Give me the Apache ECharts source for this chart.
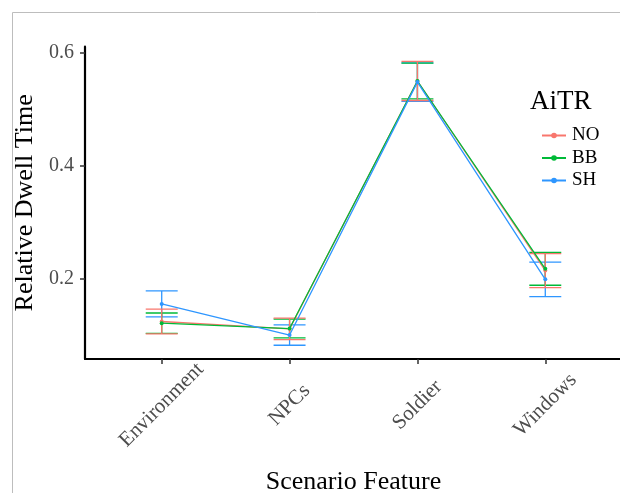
<!DOCTYPE html>
<html>
<head>
<meta charset="utf-8">
<script src="https://cdn.jsdelivr.net/npm/echarts@6/dist/echarts.min.js"></script>
<style>
  html, body { margin: 0; padding: 0; background: #fff; }
  #chart { width: 620px; height: 493px; }
</style>
</head>
<body>
<div id="chart"></div>
<script>
// 数据
const categories = ["Environment", "NPCs", "Soldier", "Windows"];
const groups = ["NO", "BB", "SH"];
const groupColors = ["#F8766D", "#00BA38", "#2E96FF"];

const noMean = [0.125, 0.112, 0.550, 0.215];
const noErr = [0.022, 0.019, 0.0345, 0.030];
const bbMean = [0.122, 0.1125, 0.550, 0.218];
const bbErr = [0.018, 0.0165, 0.0315, 0.029];
const shMean = [0.156, 0.101, 0.548, 0.1995];
const shErr = [0.023, 0.018, 0.034, 0.0305];

const yTicks = [0.2, 0.4, 0.6];
const xTicks = [0, 1, 2, 3];

const means = [noMean, bbMean, shMean];
const errs = [noErr, bbErr, shErr];

const serif = "Liberation Serif";
const chart = echarts.init(document.getElementById("chart"));

// 折线（放在前面，图例取它的图标）
const lineSeries = groups.map((g, gi) => ({
  name: g,
  type: "line",
  z: 3,
  data: categories.map((c, i) => [i, means[gi][i]]),
  symbol: "circle",
  symbolSize: 4,
  lineStyle: { color: groupColors[gi], width: 1.3 },
  itemStyle: { color: groupColors[gi] }
}));

// 误差线
const errorSeries = groups.map((g, gi) => ({
  name: g,
  type: "custom",
  z: 2,
  silent: true,
  itemStyle: { color: groupColors[gi] },
  data: categories.map((c, i) => [i, means[gi][i] - errs[gi][i], means[gi][i] + errs[gi][i]]),
  renderItem: (params, api) => {
    const x = api.value(0);
    const lo = api.coord([x, api.value(1)]);
    const hi = api.coord([x, api.value(2)]);
    const half = api.size([0.25, 0])[0] / 2;
    const style = { stroke: groupColors[gi], lineWidth: 1.3, fill: null };
    return {
      type: "group",
      children: [
        { type: "line", shape: { x1: lo[0], y1: lo[1], x2: hi[0], y2: hi[1] }, style },
        { type: "line", shape: { x1: lo[0] - half, y1: lo[1], x2: lo[0] + half, y2: lo[1] }, style },
        { type: "line", shape: { x1: hi[0] - half, y1: hi[1], x2: hi[0] + half, y2: hi[1] }, style }
      ]
    };
  }
}));
errorSeries.reverse(); // 蓝色在下面

const option = {
  animation: false,
  backgroundColor: "#fff",
  graphic: [
    {
      type: "rect",
      shape: { x: 12.5, y: 12.5, width: 700, height: 600 },
      style: { fill: null, stroke: "#bdbdbd", lineWidth: 1 },
      z: 0
    }
  ],
  title: {
    text: "AiTR",
    left: 525,
    top: 83,
    textStyle: { fontFamily: serif, fontSize: 27, fontWeight: "normal", color: "#000" }
  },
  legend: {
    data: groups,
    orient: "vertical",
    left: 536,
    top: 121,
    itemWidth: 24,
    itemHeight: 7,
    itemGap: 3.5,
    textStyle: { fontFamily: serif, fontSize: 19, color: "#000", padding: [0, 0, 0, 1] }
  },
  grid: { left: 85, right: -2, top: 46.7, bottom: 134, containLabel: false, outerBoundsMode: "none" },
  xAxis: {
    type: "value",
    min: -0.6,
    max: 3.6,
    name: "Scenario Feature",
    nameLocation: "middle",
    nameGap: 110,
    nameTextStyle: { fontFamily: serif, fontSize: 26, color: "#000" },
    axisLine: { show: true, onZero: false, lineStyle: { color: "#000", width: 2.2 } },
    axisTick: { show: true, customValues: xTicks, length: 5, lineStyle: { color: "#333", width: 1.5 } },
    axisLabel: {
      customValues: xTicks,
      rotate: 45,
      margin: 46,
      align: "center",
      verticalAlign: "middle",
      fontFamily: serif,
      fontSize: 21,
      color: "#4d4d4d",
      formatter: (v) => categories[Math.round(v)]
    },
    splitLine: { show: false }
  },
  yAxis: {
    type: "value",
    min: 0.0587,
    max: 0.6106,
    name: "Relative Dwell Time",
    nameLocation: "middle",
    nameGap: 39,
    nameTextStyle: { fontFamily: serif, fontSize: 26, color: "#000" },
    axisLine: { show: true, onZero: false, lineStyle: { color: "#000", width: 2.2 } },
    axisTick: { show: true, customValues: yTicks, length: 5, lineStyle: { color: "#333", width: 1.5 } },
    axisLabel: {
      customValues: yTicks,
      margin: 11,
      fontFamily: serif,
      fontSize: 20,
      color: "#4d4d4d",
      formatter: (v) => v.toFixed(1)
    },
    splitLine: { show: false }
  },
  series: [...lineSeries, ...errorSeries]
};

chart.setOption(option);
</script>
</body>
</html>
